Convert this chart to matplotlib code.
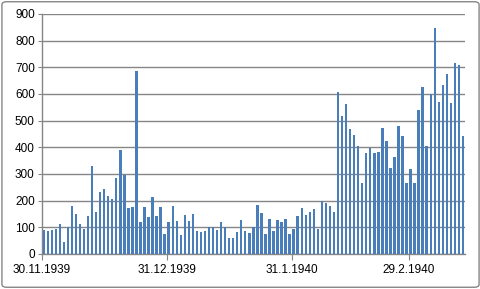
import matplotlib
matplotlib.use("Agg")
import matplotlib.pyplot as plt
from matplotlib.patches import FancyBboxPatch

values = [90, 86, 90, 92, 111, 45, 102, 179, 149, 111, 92, 142, 329, 157, 232, 242, 217,
          207, 286, 389, 296, 171, 175, 685, 119, 175, 137, 212, 141, 177, 74, 119, 181, 122,
          70, 145, 122, 149, 85, 81, 85, 102, 102, 89, 119, 100, 61, 61, 81, 126, 85, 77,
          102, 182, 152, 74, 130, 85, 126, 119, 130, 74, 92, 141, 171, 145, 156, 167, 92,
          197, 190, 181, 156, 606, 516, 561, 467, 445, 404, 265, 377, 396, 377, 381, 471, 422,
          321, 362, 479, 441, 265, 317, 265, 539, 625, 404, 601, 846, 569, 632, 674, 565,
          715, 707, 441]
tick_days = [0, 31, 62, 91]
tick_labels = ["30.11.1939", "31.12.1939", "31.1.1940", "29.2.1940"]
y_ticks = list(range(0, 901, 100))

plt.rcParams['font.family'] = ['Liberation Sans', 'DejaVu Sans']

fig = plt.figure(figsize=(4.81, 2.89), dpi=100)
ax = fig.add_axes([41.7 / 481, 35 / 289, (465 - 41.7) / 481, 240 / 289])

x = [i + 0.5 for i in range(len(values))]
ax.bar(x, values, width=0.6, color="#4a7ebb", zorder=3)

ax.set_xlim(0, len(values))
ax.set_ylim(0, 900)
ax.set_yticks(y_ticks)
ax.set_yticklabels([str(v) for v in y_ticks], fontsize=8.5)
ax.set_xticks(tick_days)
ax.set_xticklabels(tick_labels, fontsize=8.5)
ax.yaxis.grid(True, color="#868686", linewidth=1.0, zorder=0)
for s in ["top", "right"]:
    ax.spines[s].set_visible(False)
for s in ["left", "bottom"]:
    ax.spines[s].set_color("#868686")
    ax.spines[s].set_linewidth(1.0)
ax.tick_params(axis="y", length=3, color="#868686", pad=2)
ax.tick_params(axis="x", length=4, color="#868686", pad=3)

border = FancyBboxPatch((0.004, 0.006), 0.992, 0.988, boxstyle="round,pad=0,rounding_size=0.01",
                        transform=fig.transFigure, fill=False, edgecolor="#868686", linewidth=1.0)
fig.patches.append(border)

fig.savefig("out.png", dpi=100)
